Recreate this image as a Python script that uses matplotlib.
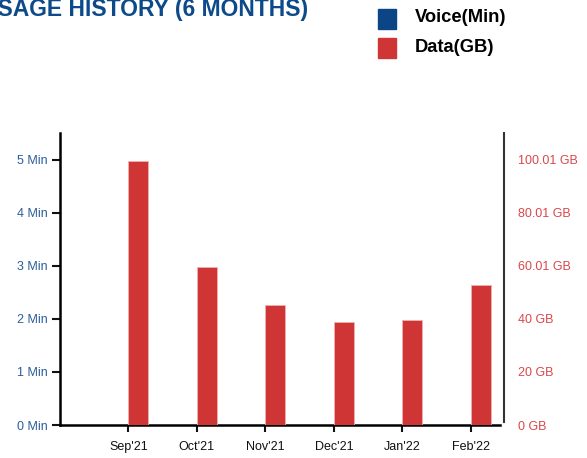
import matplotlib
matplotlib.use("Agg")
import matplotlib.pyplot as plt
from matplotlib.patches import Rectangle

# usage values
months = ["Sep'21", "Oct'21", "Nov'21", "Dec'21", "Jan'22", "Feb'22"]
voice_min = [0, 0, 0, 0, 0, 0]
data_gb = [99.4, 59.4, 45.1, 38.7, 39.5, 52.6]

left_ticks = [0, 1, 2, 3, 4, 5]
left_labels = ["0 Min", "1 Min", "2 Min", "3 Min", "4 Min", "5 Min"]
right_ticks = [0, 20, 40, 60.01, 80.01, 100.01]
right_labels = ["0 GB", "20 GB", "40 GB", "60.01 GB", "80.01 GB", "100.01 GB"]

blue = "#0b4585"
red = "#d03535"

plt.rcParams['font.family'] = ['Liberation Sans', 'DejaVu Sans']

W, H = 587, 458
fig = plt.figure(figsize=(W / 100, H / 100), dpi=100)

# axes box in pixel coords
x0, x1, y0, y1 = 60, 504, 425, 133
ax = fig.add_axes([x0 / W, 1 - y0 / H, (x1 - x0) / W, (y0 - y1) / H])
ax2 = ax.twinx()

x = list(range(len(months)))
bw = 0.29
ax.bar([i - bw for i in x], voice_min, width=bw, align='edge', color=blue)
ax2.bar(x, data_gb, width=bw, align='edge', color=red, edgecolor='#f0b0b0', linewidth=0.6)

ax.set_xlim(-1.0, 5.485)
ax.set_ylim(0, 5.5)
ax2.set_ylim(0, 110)

ax.set_xticks(x)
ax.set_xticklabels(months, fontsize=9, color='#111111')
ax.set_yticks(left_ticks)
ax.set_yticklabels(left_labels, fontsize=9, color='#2b5d9a')
ax2.set_yticks(right_ticks)
ax2.set_yticklabels(right_labels, fontsize=9, color='#d9474a')

ax.tick_params(axis='x', length=5, width=1.5, pad=6.5, color='#111111')
ax.tick_params(axis='y', length=5.8, width=1.5, pad=3, color='#111111')
ax2.tick_params(axis='y', length=0, pad=10)

for a in (ax, ax2):
    a.spines['top'].set_visible(False)
ax.spines['right'].set_visible(False)
ax2.spines['left'].set_visible(False)
ax2.spines['bottom'].set_visible(False)
ax.spines['left'].set_linewidth(1.8)
ax.spines['bottom'].set_linewidth(1.8)
ax.spines['bottom'].set_bounds(-1.0, 5.43)
ax2.spines['right'].set_linewidth(1.5)
ax2.spines['right'].set_color('#333333')
ax2.spines['right'].set_bounds(1.1, 110)

# title, cut off at the left edge like the original
fig.text(308 / W, 1 - 16 / H, "USAGE HISTORY (6 MONTHS)", ha='right', va='baseline',
         fontsize=16.5, fontweight='bold', color='#0d4a8a')

# legend
for (label, col, top) in [("Voice(Min)", blue, 9), ("Data(GB)", red, 38)]:
    fig.patches.append(Rectangle((378 / W, 1 - (top + 20) / H), 18 / W, 20 / H,
                                 transform=fig.transFigure, color=col))
    fig.text(415 / W, 1 - (top + 9) / H, label, ha='left', va='center',
             fontsize=13.2, fontweight='bold', color='#000000')

fig.savefig("out.png", dpi=100)
